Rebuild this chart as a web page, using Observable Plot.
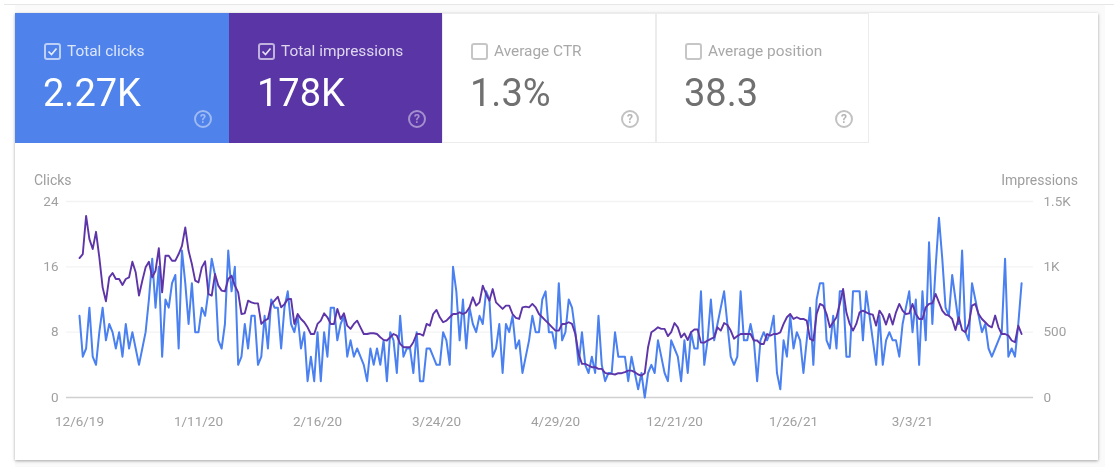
<!DOCTYPE html>
<html>
<head>
<meta charset="utf-8">
<script src="https://cdn.jsdelivr.net/npm/d3@7"></script>
<script src="https://cdn.jsdelivr.net/npm/@observablehq/plot@0.6"></script>
<style>
html,body{margin:0;padding:0;background:#fff;font-family:Roboto,sans-serif;}
#page{position:relative;width:1114px;height:474px;overflow:hidden;background:#fff;filter:blur(0.45px);}
#topline{position:absolute;left:4px;right:0;top:4px;height:1px;background:#e6e6e6;}
#back{position:absolute;left:15px;top:5px;width:1090px;height:462px;background:#fafafa;}
#card{position:absolute;left:15px;top:13px;width:1083px;height:447px;background:#fff;box-shadow:0 1px 3px rgba(0,0,0,.35);}
.tile{position:absolute;top:13px;height:130px;box-sizing:border-box;}
.tile .box{position:absolute;left:29px;top:30px;width:17px;height:17px;box-sizing:border-box;border:2px solid;border-radius:3px;}
.tile .box svg{position:absolute;left:1px;top:1px;}
.tile .lab{position:absolute;left:52px;top:29px;font-size:15.4px;line-height:18px;white-space:nowrap;}
.tile .val{position:absolute;left:28px;top:57px;font-size:38px;line-height:46px;white-space:nowrap;}
.tile .q{position:absolute;left:179px;top:97px;width:18px;height:18px;box-sizing:border-box;border:2px solid;border-radius:50%;font-size:12px;line-height:14px;text-align:center;font-weight:700;}
.axt{position:absolute;top:172px;font-size:14px;line-height:16px;color:#9e9e9e;}
#chart{position:absolute;left:0;top:170px;}
</style>
</head>
<body>
<div id="page">
<div id="topline"></div>
<div id="back"></div>
<div id="card"></div>
<div id="tiles"></div>
<div class="axt" id="lc" style="left:34px"></div>
<div class="axt" id="ri" style="right:36px"></div>
<div id="chart"></div>
</div>
<script>
const tileLabels = ["Total clicks","Total impressions","Average CTR","Average position"];
const tileValues = ["2.27K","178K","1.3%","38.3"];
const tileFills = ["#4f82ea","#5935a6","#ffffff","#ffffff"];
const tileChecked = [true,true,false,false];
const tileLeft = [15,229,442,656];
const tileWidth = [214,213,214,213];

const leftAxisTitle = "Clicks";
const rightAxisTitle = "Impressions";
const leftTicks = [0,8,16,24];
const rightTickLabels = ["0","500","1K","1.5K"];
const impressionsMax = 1500;
const clicksMax = 24;
const xTickIndex = [0,36,72,108,144,180,216,252];
const xTickLabels = ["12/6/19","1/11/20","2/16/20","3/24/20","4/29/20","12/21/20","1/26/21","3/3/21"];

const clicks = [
10,5,6,11,5,4,8,11,7,9,8,6,8,5,9,6,8,6,4,6,8,12,17,11,16,5,12,11,14,15,6,18,14,9,14,8,8,11,10,13,
17,15,7,6,9,18,13,16,4,5,9,6,10,10,4,5,10,6,12,11,11,6,11,13,9,8,10,6,8,2,5,2,8,2,8,5,11,11,7,9,
10,5,7,5,6,5,4,2,6,4,6,4,7,2,8,7,3,10,5,6,6,3,8,2,2,6,6,5,4,4,8,7,4,16,13,7,12,6,11,9,
8,10,9,13,12,5,6,9,3,9,8,10,6,7,3,5,7,10,8,8,12,13,8,8,6,14,7,8,12,11,8,4,8,4,3,5,3,10,4,2,
3,3,8,5,5,5,2,5,3,1,3,0,3,4,3,7,5,3,2,7,6,5,2,7,3,8,6,6,13,4,7,12,7,9,11,13,9,5,4,5,
13,7,7,9,7,2,7,8,7,8,10,3,1,7,5,10,6,8,7,3,7,11,4,12,14,14,7,6,10,6,13,13,5,5,13,13,13,7,13,10,
7,4,10,4,7,8,7,7,5,9,11,13,8,12,4,13,7,19,9,16,22,17,11,10,15,12,9,18,8,7,14,12,10,8,9,6,
5,6,7,8,17,5,6,5,9,14];

const impressions = [
1067,1098,1390,1212,1136,1268,1072,843,736,919,953,907,907,861,907,919,1039,958,780,894,996,1039,919,970,1143,805,1085,1085,1047,1047,1098,1161,1301,1123,1021,894,881,996,1042,792,
780,945,856,818,812,907,932,856,805,639,644,741,728,720,720,563,588,601,715,741,771,690,715,753,754,563,639,601,576,537,486,486,563,588,644,614,563,563,678,601,
644,550,525,563,588,537,486,486,492,492,486,461,441,436,461,486,474,410,385,385,385,423,486,486,474,563,550,639,670,614,576,588,614,639,639,652,639,652,690,767,
703,728,856,792,741,830,728,703,678,703,703,639,609,601,690,695,690,716,690,639,614,588,563,537,512,512,563,563,576,563,486,330,257,257,245,232,232,219,219,188,
181,181,176,186,186,194,206,206,194,176,168,186,385,499,517,537,525,525,470,500,570,537,460,490,440,500,520,520,420,420,436,448,461,537,512,570,555,512,450,470,
486,486,486,486,436,436,410,410,486,474,486,486,499,563,614,639,601,614,601,601,588,448,436,640,716,703,639,537,576,614,716,830,650,563,512,563,652,665,652,639,
634,550,665,627,558,639,558,652,716,665,639,644,716,639,601,601,690,716,721,792,728,665,634,627,601,517,614,517,499,563,703,716,639,601,576,550,537,627,537,486,
486,474,436,423,550,486];

const impressionsOnClicksScale = v => v * clicksMax / impressionsMax;
const rows = clicks.map((c,i)=>({i, c, p: impressionsOnClicksScale(impressions[i])}));

const tiles = d3.select("#tiles");
tileLabels.forEach((l,k)=>{
  const on = tileChecked[k];
  const t = tiles.append("div").attr("class","tile")
    .style("left",tileLeft[k]+"px")
    .style("width",tileWidth[k]+"px")
    .style("background",tileFills[k])
    .style("box-shadow", on ? "none" : "inset 0 0 0 1px #ececec");
  const dim = on ? "rgba(255,255,255,.62)" : "#c6c6c6";
  const b = t.append("div").attr("class","box").style("border-color",dim);
  if(on) b.html('<svg width="11" height="11" viewBox="0 0 11 11"><path d="M1.5 5.5l3 3 5-6" fill="none" stroke="rgba(255,255,255,.85)" stroke-width="1.7"/></svg>');
  t.append("div").attr("class","lab").style("color",on?"rgba(255,255,255,.8)":"#a8a8a8").text(l);
  t.append("div").attr("class","val").style("color",on?"#ffffff":"#707070").text(tileValues[k]);
  t.append("div").attr("class","q").style("border-color",on?"rgba(255,255,255,.45)":"#c2c2c2").style("color",on?"rgba(255,255,255,.45)":"#b5b5b5").text("?");
});
d3.select("#lc").text(leftAxisTitle);
d3.select("#ri").text(rightAxisTitle);

const chart = Plot.plot({
  width:1114, height:270,
  marginLeft:66, marginRight:81, marginTop:31, marginBottom:43,
  style:{background:"transparent",fontFamily:"Roboto,sans-serif",fontSize:"13.5px",color:"#a0a0a0"},
  x:{type:"linear",domain:[-3.93,288.6],axis:null},
  y:{domain:[0,clicksMax],axis:null},
  marks:[
    Plot.ruleY(leftTicks.slice(1),{stroke:"#f3f3f3",strokeWidth:1.3}),
    Plot.ruleY([0],{stroke:"#cfcfcf",strokeWidth:1.6}),
    Plot.axisY({anchor:"left",ticks:leftTicks,tickSize:0,tickPadding:8,label:null,tickFormat:d=>d}),
    Plot.axisY({anchor:"right",ticks:leftTicks,tickSize:0,tickPadding:10,label:null,tickFormat:(d,i)=>rightTickLabels[leftTicks.indexOf(d)]}),
    Plot.axisX({ticks:xTickIndex,tickSize:0,tickPadding:19,label:null,tickFormat:d=>xTickLabels[xTickIndex.indexOf(d)]}),
    Plot.line(rows,{x:"i",y:"c",stroke:"#4a80f0",strokeWidth:2,curve:"linear"}),
    Plot.line(rows,{x:"i",y:"p",stroke:"#5e35a8",strokeWidth:1.9,curve:"linear"})
  ]
});
document.getElementById("chart").appendChild(chart);
</script>
</body>
</html>
